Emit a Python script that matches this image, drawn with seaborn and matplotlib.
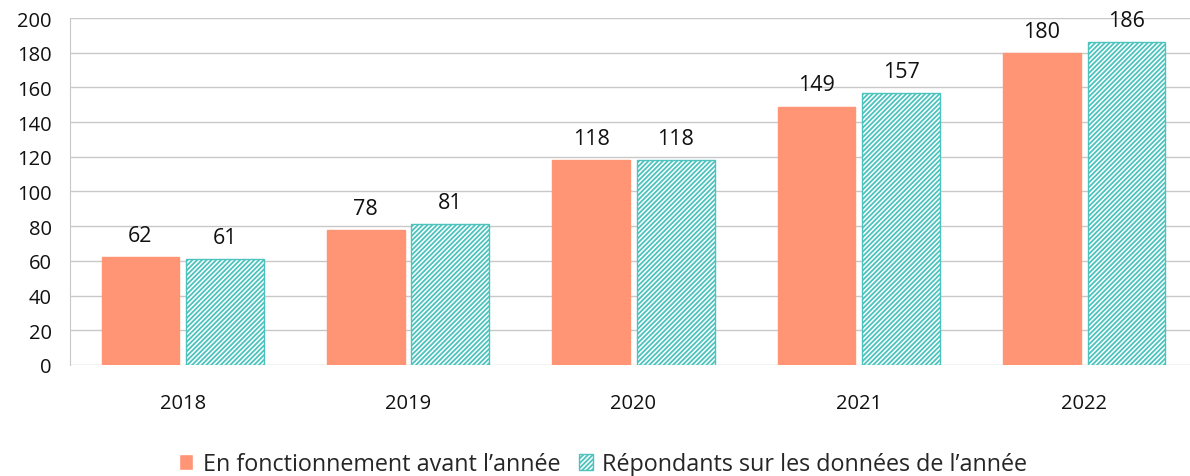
import matplotlib
matplotlib.use("Agg")
import matplotlib.pyplot as plt
import numpy as np
import pandas as pd
import seaborn as sns

years = ["2018", "2019", "2020", "2021", "2022"]
avant = [62, 78, 118, 149, 180]
repondants = [61, 81, 118, 157, 186]
series_names = ["En fonctionnement avant l\u2019ann\u00e9e", "R\u00e9pondants sur les donn\u00e9es de l\u2019ann\u00e9e"]

df = pd.DataFrame({
    "annee": years * 2,
    "valeur": avant + repondants,
    "serie": [series_names[0]] * len(years) + [series_names[1]] * len(years),
})

sns.set_style("white")
plt.rcParams["font.family"] = ["Open Sans", "DejaVu Sans"]
plt.rcParams["hatch.linewidth"] = 1.3

orange = "#FF9575"
teal = "#4CC3BD"

fig = plt.figure(figsize=(11.9, 4.77), dpi=100)
ax = fig.add_axes([0.0588, 0.233, 0.947, 0.727])

sns.barplot(data=df, x="annee", y="valeur", hue="serie", palette=[orange, "white"],
            width=0.75, gap=0.08, ax=ax, saturation=1)

for p in ax.containers[0]:
    p.set_edgecolor(orange)
for p in ax.containers[1]:
    p.set_facecolor("white")
    p.set_edgecolor(teal)
    p.set_hatch("///////")
    p.set_linewidth(1.0)

for c in ax.containers:
    ax.bar_label(c, padding=8, fontsize=15.5, color="#111111")

ax.set_ylim(0, 200)
ax.set_yticks(np.arange(0, 201, 20))
ax.set_xlim(-0.5, 4.5)
ax.grid(axis="y", color="#c8c8c8", linewidth=1)
ax.set_axisbelow(True)
for s in ["top", "right", "bottom"]:
    ax.spines[s].set_visible(False)
ax.spines["left"].set_color("#c8c8c8")
ax.tick_params(axis="y", length=8, color="#c8c8c8", labelsize=14.5, pad=5, labelcolor="#111111")
ax.tick_params(axis="x", which="major", length=0, pad=20, labelsize=14.5, labelcolor="#111111")
ax.set_xticks(np.arange(-0.5, 5, 1), minor=True)
ax.tick_params(axis="x", which="minor", length=8, color="#c8c8c8", direction="out")
ax.set_xlabel("")
ax.set_ylabel("")

handles, labels = ax.get_legend_handles_labels()
ax.get_legend().remove()
leg = fig.legend(handles, series_names, loc="center", bbox_to_anchor=(0.507, 0.025), ncol=2,
                 frameon=False, fontsize=16.8, handlelength=0.6, handleheight=0.7,
                 handletextpad=0.4, columnspacing=0.8)
leg.legend_handles[1].set_hatch("///////")
leg.legend_handles[1].set_edgecolor(teal)
leg.legend_handles[1].set_facecolor("white")

fig.savefig("out.png", dpi=100)
